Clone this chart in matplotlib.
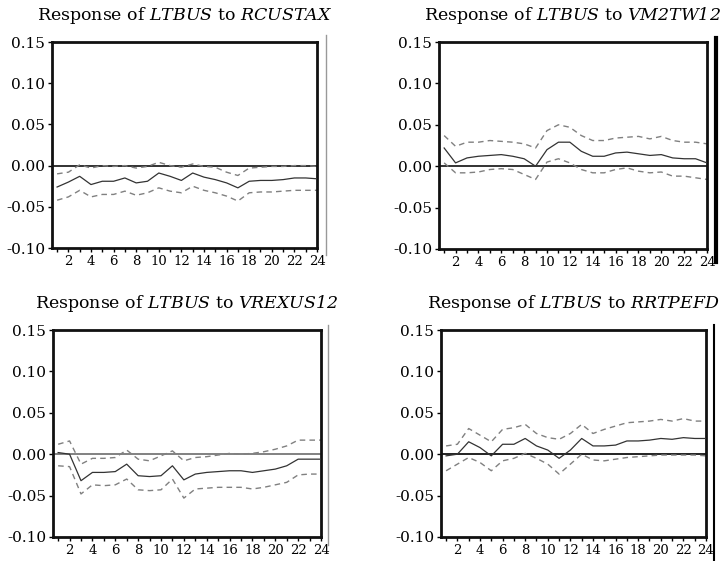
import numpy as np
import matplotlib
matplotlib.use("Agg")
import matplotlib.pyplot as plt
from matplotlib.lines import Line2D

plt.rcParams['font.family'] = ['DejaVu Serif']
plt.rcParams['mathtext.fontset'] = 'custom'
# use the sf slot for italic so that digits stay italic too
plt.rcParams['mathtext.sf'] = 'DejaVu Serif:italic'
plt.rcParams['mathtext.rm'] = 'DejaVu Serif'

periods = np.arange(1, 25)

titles = [
    r"Response of $\mathsf{LTBUS}$ to $\mathsf{RCUSTAX}$",
    r"Response of $\mathsf{LTBUS}$ to $\mathsf{VM2TW12}$",
    r"Response of $\mathsf{LTBUS}$ to $\mathsf{VREXUS12}$",
    r"Response of $\mathsf{LTBUS}$ to $\mathsf{RRTPEFD}$",
]

# impulse responses (solid) and +/- 2 s.e. bands (dashed)
resp_rcustax = [-0.026, -0.020, -0.013, -0.023, -0.019, -0.019, -0.015, -0.021,
                -0.019, -0.009, -0.013, -0.018, -0.009, -0.014, -0.017, -0.021,
                -0.027, -0.019, -0.018, -0.018, -0.017, -0.015, -0.015, -0.016]
up_rcustax = [-0.010, -0.008, 0.001, -0.003, 0.000, -0.001, 0.000, -0.003,
              -0.001, 0.004, 0.000, -0.002, 0.002, -0.001, -0.002, -0.008,
              -0.012, -0.003, -0.002, -0.001, -0.001, 0.000, 0.000, -0.001]
lo_rcustax = [-0.042, -0.038, -0.030, -0.038, -0.035, -0.035, -0.031, -0.036,
              -0.033, -0.027, -0.031, -0.033, -0.025, -0.030, -0.033, -0.037,
              -0.043, -0.033, -0.032, -0.032, -0.031, -0.030, -0.030, -0.030]

resp_vm2tw = [0.022, 0.004, 0.010, 0.012, 0.013, 0.014, 0.012, 0.009,
              0.000, 0.020, 0.029, 0.029, 0.018, 0.012, 0.012, 0.016,
              0.017, 0.015, 0.013, 0.014, 0.010, 0.009, 0.009, 0.004]
up_vm2tw = [0.037, 0.024, 0.029, 0.029, 0.031, 0.030, 0.029, 0.027,
            0.022, 0.043, 0.050, 0.047, 0.037, 0.031, 0.031, 0.034,
            0.035, 0.036, 0.033, 0.036, 0.031, 0.029, 0.029, 0.027]
lo_vm2tw = [0.004, -0.008, -0.008, -0.007, -0.004, -0.003, -0.004, -0.010,
            -0.016, 0.005, 0.009, 0.004, -0.004, -0.008, -0.008, -0.004,
            -0.002, -0.006, -0.008, -0.007, -0.012, -0.012, -0.014, -0.016]

resp_vrexus = [0.002, 0.000, -0.032, -0.022, -0.022, -0.021, -0.012, -0.026,
               -0.027, -0.026, -0.014, -0.031, -0.024, -0.022, -0.021, -0.020,
               -0.020, -0.022, -0.020, -0.018, -0.014, -0.006, -0.006, -0.006]
up_vrexus = [0.012, 0.016, -0.012, -0.005, -0.005, -0.004, 0.005, -0.006,
             -0.008, -0.002, 0.004, -0.008, -0.004, -0.003, -0.001, 0.001,
             0.000, 0.001, 0.003, 0.006, 0.010, 0.017, 0.017, 0.017]
lo_vrexus = [-0.014, -0.015, -0.048, -0.037, -0.038, -0.037, -0.030, -0.043,
             -0.044, -0.043, -0.030, -0.053, -0.042, -0.041, -0.040, -0.040,
             -0.040, -0.042, -0.040, -0.037, -0.034, -0.025, -0.024, -0.024]

resp_rrtpefd = [-0.002, 0.000, 0.015, 0.008, -0.002, 0.012, 0.012, 0.019,
                0.010, 0.005, -0.005, 0.005, 0.019, 0.010, 0.010, 0.011,
                0.016, 0.016, 0.017, 0.019, 0.018, 0.020, 0.019, 0.019]
up_rrtpefd = [0.010, 0.012, 0.031, 0.023, 0.015, 0.030, 0.032, 0.036,
              0.025, 0.020, 0.018, 0.025, 0.036, 0.025, 0.030, 0.034,
              0.038, 0.039, 0.040, 0.042, 0.040, 0.043, 0.040, 0.040]
lo_rrtpefd = [-0.020, -0.012, -0.004, -0.010, -0.020, -0.008, -0.005, 0.001,
              -0.005, -0.012, -0.024, -0.012, 0.000, -0.007, -0.008, -0.006,
              -0.004, -0.003, -0.002, -0.001, -0.001, -0.001, -0.001, -0.002]

responses = [resp_rcustax, resp_vm2tw, resp_vrexus, resp_rrtpefd]
uppers = [up_rcustax, up_vm2tw, up_vrexus, up_rrtpefd]
lowers = [lo_rcustax, lo_vm2tw, lo_vrexus, lo_rrtpefd]

yticks = [-0.10, -0.05, 0.00, 0.05, 0.10, 0.15]
xticks = list(range(2, 25, 2))

W, H = 724, 561
fig = plt.figure(figsize=(W / 100, H / 100), dpi=100)

# axes boxes in pixels: left, right, top, bottom
boxes = [(52, 317, 42, 248), (439, 707, 42, 249),
         (53, 321, 330, 537), (441, 706, 330, 537)]
zero_colors = ['#222222', '#222222', '#777777', '#111111']

for i, (l, r, t, b) in enumerate(boxes):
    ax = fig.add_axes([l / W, 1 - b / H, (r - l) / W, (b - t) / H])
    ax.axhline(0, color=zero_colors[i], lw=1.3, zorder=1)
    ax.plot(periods, responses[i], color='#333333', lw=0.9, zorder=3)
    ax.plot(periods, uppers[i], color='#808080', lw=1.0, ls=(0, (4, 3)), zorder=2)
    ax.plot(periods, lowers[i], color='#808080', lw=1.0, ls=(0, (4, 3)), zorder=2)
    ax.set_xlim(0.55, 24)
    ax.set_ylim(-0.10, 0.15)
    ax.set_yticks(yticks)
    ax.set_yticklabels(['%.2f' % v for v in yticks])
    ax.set_xticks(xticks)
    ax.set_xticks(periods, minor=True)
    ax.tick_params(axis='both', which='major', labelsize=11, length=3,
                   width=1, direction='out', pad=2)
    ax.tick_params(axis='x', which='minor', length=3, width=1, direction='out')
    ax.tick_params(axis='x', which='major', labelsize=9.5, pad=2)
    for side in ax.spines.values():
        side.set_linewidth(2.0)
        side.set_color('#111111')
    ax.set_title(titles[i], fontsize=12.5, pad=16)

# scan edges to the right of each panel
edges = [(326, 35, 255, '#999999', 1.0), (716, 38, 262, '#000000', 3.0),
         (328, 325, 545, '#999999', 1.0), (714, 325, 561, '#000000', 1.5)]
for x, y0, y1, c, w in edges:
    fig.add_artist(Line2D([x / W, x / W], [1 - y0 / H, 1 - y1 / H],
                          color=c, lw=w, transform=fig.transFigure))

plt.savefig('out.png', dpi=100)
